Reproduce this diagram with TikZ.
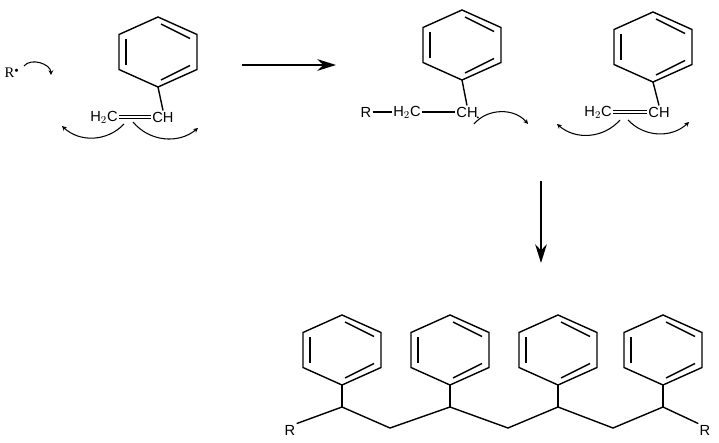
\documentclass[tikz,border=0pt]{standalone}
\usepackage{fontspec}
\setmainfont{Liberation Serif}
\setsansfont{Liberation Sans}
\usetikzlibrary{arrows.meta}

\tikzset{
  bond/.style={line width=1.2pt},
  atom/.style={inner sep=1pt,font=\sffamily\fontsize{12.5}{14}\selectfont},
  push/.style={line width=0.9pt,-{Stealth[length=4pt,width=4pt]}},
  react/.style={line width=1.1pt,-{Stealth[length=16pt,width=10pt]}},
  ring/.pic={
    \draw[bond] (0,-35) -- (39,-17.5) -- (39,17.5) -- (0,35) -- (-39,17.5) -- (-39,-17.5) -- cycle;
    \draw[bond] (-32,-13) -- (-32,13);
    \draw[bond] (3,-28) -- (32,-13.5);
    \draw[bond] (32,13.5) -- (3,28);
  }
}

\begin{document}
\begin{tikzpicture}[x=0.03cm,y=-0.03cm]
\useasboundingbox (0,0) rectangle (719,443);

% radical
\node[inner sep=1pt,font=\rmfamily\fontsize{12.5}{14}\selectfont] (rad) at (12,73) {R$^{\scriptscriptstyle\bullet}$};
\coordinate (r1) at (24,66);
\coordinate (r2) at (51,75);
\draw[push] (r1) to[bend left=70] (r2);

% styrene
\pic at (158,52) {ring};
\node[atom] (s1h) at (104,117) {H$_2$C};
\node[atom] (s1c) at (163,117) {CH};
\draw[bond] (158,87) -- (s1c.north);
\draw[bond] ([yshift=1.5pt]s1h.east) -- ([yshift=1.5pt]s1c.west);
\draw[bond] ([yshift=-1.5pt]s1h.east) -- ([yshift=-1.5pt]s1c.west);
\coordinate (a1) at (124,124);
\coordinate (a2) at (62,126);
\coordinate (a3) at (133,122);
\coordinate (a4) at (198,128);
\draw[push] (a1) to[bend left=45] (a2);
\draw[push] (a3) to[bend right=45] (a4);

% reaction arrow
\coordinate (p1) at (242,65);
\coordinate (p2) at (336,65);
\draw[react] (p1) -- (p2);

% growing chain
\pic at (462,45) {ring};
\node[atom] (rr) at (366,112) {R};
\node[atom] (m1h) at (407,112) {H$_2$C};
\node[atom] (m1c) at (467,112) {CH};
\fill ([xshift=-1pt,yshift=1pt]m1c.south east) circle (0.9pt);
\draw[bond] (462,80) -- (m1c.north);
\draw[bond] (rr.east) -- (m1h.west);
\draw[bond] (m1h.east) -- (m1c.west);
\coordinate (b1) at (474,124);
\coordinate (b2) at (528,124);
\draw[push] (b1) to[bend left=50] (b2);

% second styrene
\pic at (653,47) {ring};
\node[atom] (s2h) at (598,112) {H$_2$C};
\node[atom] (s2c) at (659,112) {CH};
\draw[bond] (653,82) -- (s2c.north);
\draw[bond] ([yshift=1.5pt]s2h.east) -- ([yshift=1.5pt]s2c.west);
\draw[bond] ([yshift=-1.5pt]s2h.east) -- ([yshift=-1.5pt]s2c.west);
\coordinate (c1) at (620,120);
\coordinate (c2) at (557,124);
\coordinate (c3) at (628,120);
\coordinate (c4) at (689,122);
\draw[push] (c1) to[bend left=45] (c2);
\draw[push] (c3) to[bend right=45] (c4);

% down arrow
\coordinate (d1) at (541,181);
\coordinate (d2) at (541,263);
\draw[react] (d1) -- (d2);

% polystyrene
\foreach \x in {342,450,558,663}{
  \pic at (\x,350) {ring};
  \draw[bond] (\x,385) -- (\x,407);
}
\node[atom] (rl) at (290,430) {R};
\node[atom] (rrr) at (705,430) {R};
\coordinate (k1) at (342,407);
\coordinate (k2) at (390,428);
\coordinate (k3) at (450,407);
\coordinate (k4) at (508,428);
\coordinate (k5) at (558,407);
\coordinate (k6) at (613,428);
\coordinate (k7) at (663,407);
\draw[bond] (rl.north east) -- (k1) -- (k2) -- (k3) -- (k4) -- (k5) -- (k6) -- (k7) -- (rrr.north west);
\end{tikzpicture}
\end{document}
